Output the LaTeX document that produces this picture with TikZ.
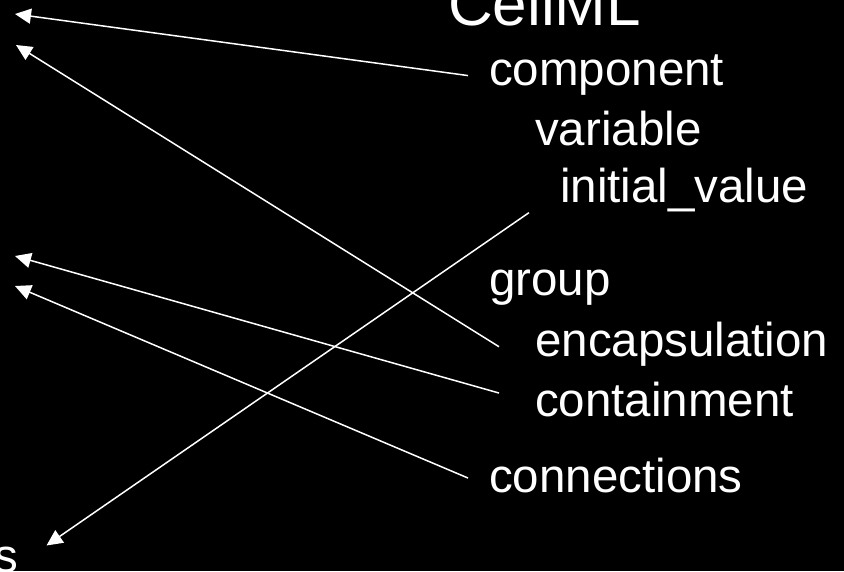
\documentclass[tikz,border=0pt]{standalone}
\usepackage{fontspec}
\setmainfont{Liberation Sans}
\usetikzlibrary{arrows.meta, positioning}

\tikzset{
	item/.style={anchor=base west, inner sep=0pt, text=white, font=\fontsize{47.5}{56}\selectfont},
	link/.style={-{Triangle[length=16pt, width=15pt]}, white, line width=1.5pt}
}

\begin{document}
\begin{tikzpicture}[x=1pt, y=-1pt]
		\clip (0,0) rectangle (844,571);
		\fill[black] (0,0) rectangle (844,571);
		\node[item, font=\fontsize{62}{70}\selectfont] (cellml) at (448,25) {CellML};
		\node[item] (component) at (489,85) {component};
		\node[item] (variable) at (535,145) {variable};
		\node[item] (initval) at (560,202) {initial\_value};
		\node[item] (group) at (489,295) {group};
		\node[item] (encaps) at (535,356) {encapsulation};
		\node[item] (contain) at (535,416) {containment};
		\node[item] (connect) at (489,492) {connections};
		\node[item, anchor=base east] (lefts) at (18.5,572) {s};
		\coordinate (tipA) at (15,14);
		\coordinate (tipB) at (16,45);
		\coordinate (tipC) at (15,256);
		\coordinate (tipD) at (15,286);
		\draw[link] ([shift={(-21,1)}]component.west) -- (tipA);
		\draw[link] ([shift={(-36,3)}]encaps.west) -- (tipB);
		\draw[link] ([shift={(-36,-6)}]contain.west) -- (tipC);
		\draw[link] ([shift={(-21,3)}]connect.west) -- (tipD);
		\draw[link] ([shift={(-31,1)}]initval.south west) -- ([shift={(28,-14)}]lefts.east);
	\end{tikzpicture}
\end{document}
